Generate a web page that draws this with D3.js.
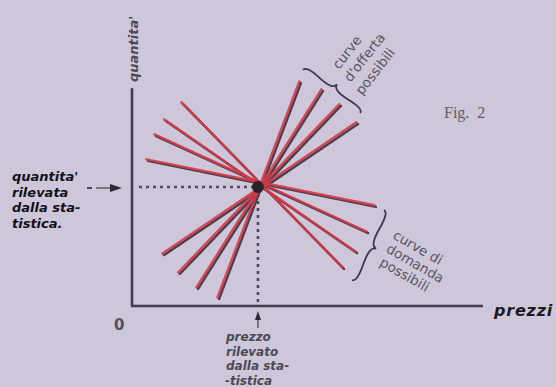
<!DOCTYPE html>
<html>
<head>
<meta charset="utf-8">
<script src="https://cdn.jsdelivr.net/npm/d3@7"></script>
<style>
  html, body { margin: 0; padding: 0; background: #cec7d9; }
  svg { display: block; }
  .lab { font-family: "DejaVu Sans", sans-serif; font-style: italic; font-weight: bold; }
  .note { font-family: "DejaVu Sans", sans-serif; fill: #565562; }
</style>
</head>
<body>
<svg id="chart"></svg>
<script>
// observed point (price, quantity) in chart units
const observedPrice = 35.7;
const observedQuantity = 54.1;

// possible supply curves: [x1, y1, x2, y2]
const supplyCurves = [
    [8.6, 23.6, 64.0, 83.2],
    [13.1, 15.0, 59.1, 91.4],
    [18.3, 8.2, 54.0, 98.2],
    [24.3, 3.6, 47.7, 101.8]
];

// possible demand curves: [x1, y1, x2, y2]
const demandCurves = [
    [4.0, 66.4, 69.1, 45.5],
    [6.3, 77.7, 66.9, 33.6],
    [9.1, 84.5, 63.7, 24.5],
    [14.0, 92.3, 60.0, 17.3]
];

// braces grouping the curves: [x1, y1, x2, y2]
const supplyBrace = [64.9, 87.7, 48.6, 107.3];
const demandBrace = [62.6, 11.8, 71.7, 43.6];

const leftLines = ["quantita'", "rilevata", "dalla sta-", "tistica."];
const bottomLines = ["prezzo", "rilevato", "dalla sta-", "-tistica"];
const supplyNote = ["curve", "d'offerta", "possibili"];
const demandNote = ["curve di", "domanda", "possibili"];

const width = 556, height = 387;

const svg = d3.select("#chart")
    .attr("width", width)
    .attr("height", height);

const x = d3.scaleLinear().domain([0, 100]).range([133, 483]);
const y = d3.scaleLinear().domain([0, 100]).range([306, 86]);

// dotted guides
const guide = svg.append("g")
    .attr("stroke", "#4c4b58")
    .attr("stroke-width", 2.6)
    .attr("stroke-dasharray", "3,4");
guide.append("line")
    .attr("x1", x(0) + 6).attr("y1", y(observedQuantity))
    .attr("x2", x(observedPrice)).attr("y2", y(observedQuantity));
guide.append("line")
    .attr("x1", x(observedPrice)).attr("y1", y(observedQuantity))
    .attr("x2", x(observedPrice)).attr("y2", y(0));

// axes
svg.append("line")
    .attr("x1", x(0) - 1).attr("y1", y(0))
    .attr("x2", x(0) - 1).attr("y2", y(99))
    .attr("stroke", "#3f3e4a").attr("stroke-width", 2.6);
svg.append("line")
    .attr("x1", x(0) - 2).attr("y1", y(0))
    .attr("x2", x(100)).attr("y2", y(0))
    .attr("stroke", "#3f3e4a").attr("stroke-width", 2.6);

// curves: dark shadow plus red ink, slightly misregistered
const allCurves = supplyCurves.concat(demandCurves);
const curves = svg.append("g");
curves.selectAll(".shadow").data(allCurves).join("line")
    .attr("class", "shadow")
    .attr("x1", d => x(d[0]) + 1).attr("y1", d => y(d[1]) + 1)
    .attr("x2", d => x(d[2]) + 1).attr("y2", d => y(d[3]) + 1)
    .attr("stroke", "#4a3e4c").attr("stroke-width", 2.4)
    .attr("stroke-linecap", "round");
curves.selectAll(".ink").data(allCurves).join("line")
    .attr("class", "ink")
    .attr("x1", d => x(d[0]) - 0.6).attr("y1", d => y(d[1]) - 0.6)
    .attr("x2", d => x(d[2]) - 0.6).attr("y2", d => y(d[3]) - 0.6)
    .attr("stroke", "#d23a48").attr("stroke-width", 2.4)
    .attr("stroke-linecap", "round")
    .attr("stroke-opacity", 0.9);

svg.append("circle")
    .attr("cx", x(observedPrice)).attr("cy", y(observedQuantity))
    .attr("r", 6)
    .attr("fill", "#2b2229");

// curly braces
function brace(b, w) {
    const x1 = x(b[0]), y1 = y(b[1]), x2 = x(b[2]), y2 = y(b[3]);
    let dx = x1 - x2, dy = y1 - y2;
    const len = Math.hypot(dx, dy);
    dx /= len; dy /= len;
    const q = 0.6;
    const qx1 = x1 + q * w * dy, qy1 = y1 - q * w * dx;
    const qx2 = x1 - 0.25 * len * dx + (1 - q) * w * dy, qy2 = y1 - 0.25 * len * dy - (1 - q) * w * dx;
    const tx = x1 - 0.5 * len * dx + w * dy, ty = y1 - 0.5 * len * dy - w * dx;
    const qx3 = x2 + q * w * dy, qy3 = y2 - q * w * dx;
    const qx4 = x1 - 0.75 * len * dx + (1 - q) * w * dy, qy4 = y1 - 0.75 * len * dy - (1 - q) * w * dx;
    return `M${x1},${y1}Q${qx1},${qy1} ${qx2},${qy2}T${tx},${ty}M${x2},${y2}Q${qx3},${qy3} ${qx4},${qy4}T${tx},${ty}`;
}
svg.selectAll(".brace").data([supplyBrace, demandBrace]).join("path")
    .attr("class", "brace")
    .attr("d", d => brace(d, 9))
    .attr("fill", "none")
    .attr("stroke", "#3b3a48")
    .attr("stroke-width", 1.8);

// arrows pointing at the observed values
const qy = y(observedQuantity) + 1;
svg.append("line")
    .attr("x1", 87).attr("y1", qy).attr("x2", 92).attr("y2", qy)
    .attr("stroke", "#2a2a33").attr("stroke-width", 1.6);
svg.append("line")
    .attr("x1", 96).attr("y1", qy).attr("x2", 114).attr("y2", qy)
    .attr("stroke", "#55545f").attr("stroke-width", 1.4);
svg.append("path")
    .attr("d", `M110,${qy - 4}L122,${qy}L110,${qy + 4}Z`)
    .attr("fill", "#2a2a33");

const px = x(observedPrice);
svg.append("line")
    .attr("x1", px).attr("y1", y(0) + 11)
    .attr("x2", px).attr("y2", y(0) + 22)
    .attr("stroke", "#55545f").attr("stroke-width", 1.4);
svg.append("path")
    .attr("d", `M${px - 3},${y(0) + 14}L${px},${y(0) + 5}L${px + 3},${y(0) + 14}Z`)
    .attr("fill", "#2a2a33");

// axis labels
svg.append("text")
    .attr("class", "lab")
    .attr("transform", `translate(${x(0) + 5},82) rotate(-90)`)
    .attr("font-size", 13)
    .attr("fill", "#4a4955")
    .text("quantita'");

svg.append("text")
    .attr("class", "lab")
    .attr("x", 494).attr("y", 316)
    .attr("font-size", 16)
    .attr("letter-spacing", 0.8)
    .attr("fill", "#1a1a22")
    .text("prezzi");

svg.append("text")
    .attr("x", 114).attr("y", 330)
    .attr("font-family", "DejaVu Sans, sans-serif")
    .attr("font-weight", "bold")
    .attr("font-size", 15)
    .attr("fill", "#52515c")
    .text("0");

svg.append("text")
    .attr("class", "lab")
    .attr("font-size", 13)
    .attr("fill", "#111118")
    .selectAll("tspan").data(leftLines).join("tspan")
    .attr("x", 12)
    .attr("y", (d, i) => 181 + i * 15.5)
    .text(d => d);

svg.append("text")
    .attr("class", "lab")
    .attr("font-size", 12)
    .attr("fill", "#4a4955")
    .selectAll("tspan").data(bottomLines).join("tspan")
    .attr("x", (d, i) => i === 3 ? 225 : 226)
    .attr("y", (d, i) => 341 + i * 14.5)
    .text(d => d);

// notes beside the braces
svg.append("text")
    .attr("class", "note")
    .attr("font-size", 13.5)
    .attr("transform", "translate(339,70) rotate(-52)")
    .selectAll("tspan").data(supplyNote).join("tspan")
    .attr("x", (d, i) => -i * 3)
    .attr("y", (d, i) => i * 17)
    .text(d => d);

svg.append("text")
    .attr("class", "note")
    .attr("font-size", 13.5)
    .attr("transform", "translate(392,238) rotate(30)")
    .selectAll("tspan").data(demandNote).join("tspan")
    .attr("x", (d, i) => i * 1)
    .attr("y", (d, i) => i * 15)
    .text(d => d);

svg.append("text")
    .attr("x", 444).attr("y", 118)
    .attr("font-family", "Liberation Serif, serif")
    .attr("font-size", 16)
    .attr("fill", "#5e5d68")
    .attr("xml:space", "preserve")
    .text("Fig.  2");
</script>
</body>
</html>
